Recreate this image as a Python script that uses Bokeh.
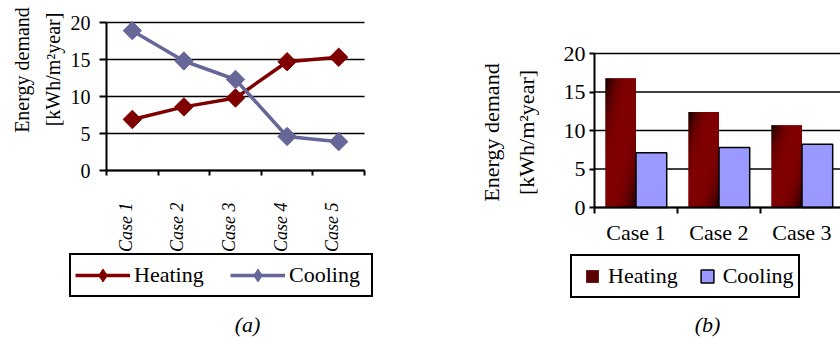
import numpy as np
from math import pi
from bokeh.plotting import figure
from bokeh.layouts import row
from bokeh.models import (Range1d, FixedTicker, CustomJSTickFormatter, Label,
                          Legend, LegendItem)
from bokeh.embed import file_html
from bokeh.resources import INLINE

# ---------------- data ----------------
cases_a = ["Case 1", "Case 2", "Case 3", "Case 4", "Case 5"]
heating_a = [6.9, 8.6, 9.8, 14.7, 15.3]
cooling_a = [18.9, 14.8, 12.3, 4.6, 3.9]

cases_b = ["Case 1", "Case 2", "Case 3"]
heating_b = [16.8, 12.4, 10.7]
cooling_b = [7.1, 7.8, 8.2]

y_ticks = [0, 5, 10, 15, 20]
series = ["Heating", "Cooling"]
y_label = ["Energy demand", "[kWh/m\u00b2year]"]
captions = ["(a)", "(b)"]

# ---------------- style ----------------
SERIF = "Liberation Serif"
HEAT = "#800000"
COOL_A = "#666699"
COOL_B = "#9999FF"
FIG_W, FIG_H, PAGE_M = 420, 340, 0


class Geo:
    """page-pixel <-> data mapping for a figure whose frame fills its canvas"""

    def __init__(self, fig_left, x0_px, xs, y0_px, ys):
        self.fl, self.x0, self.xs, self.y0, self.ys = fig_left, x0_px, xs, y0_px, ys

    def x(self, px):
        return (px - self.x0) / self.xs

    def y(self, py):
        return (self.y0 - py) / self.ys

    def xrange(self):
        return Range1d(self.x(self.fl), self.x(self.fl + FIG_W))

    def yrange(self):
        return Range1d(self.y(PAGE_M + FIG_H), self.y(PAGE_M))


def make_fig(g):
    p = figure(width=FIG_W, height=FIG_H, x_range=g.xrange(), y_range=g.yrange(),
               output_backend="svg", toolbar_location=None, min_border=0)
    p.min_border_left = p.min_border_right = p.min_border_top = p.min_border_bottom = 0
    p.background_fill_color = "white"
    p.border_fill_color = "white"
    p.outline_line_color = None
    p.xgrid.visible = False
    p.ygrid.visible = False
    return p


def style_y(p, size, tick_out, standoff, x_end):
    # horizontal grid lines at the y ticks, spanning the category area
    p.segment(x0=[0] * len(y_ticks), x1=[x_end] * len(y_ticks), y0=y_ticks, y1=y_ticks,
              line_color="black", line_width=1.6, level="underlay")
    ax = p.yaxis[0]
    ax.fixed_location = 0
    ax.ticker = FixedTicker(ticks=y_ticks)
    ax.bounds = (0, 20)
    ax.axis_line_width = 2
    ax.axis_line_color = "black"
    ax.major_tick_out = tick_out
    ax.major_tick_in = 0
    ax.major_tick_line_width = 2
    ax.major_tick_line_color = "black"
    ax.minor_tick_out = 0
    ax.minor_tick_in = 0
    ax.major_label_standoff = standoff
    ax.major_label_text_font = SERIF
    ax.major_label_text_font_size = size
    ax.major_label_text_color = "black"


def style_x(p, labels, label_pos, n_bound, size, style, orient, tick_out, standoff):
    ax = p.xaxis[0]
    ax.fixed_location = 0
    ax.bounds = (0, n_bound)
    ax.ticker = FixedTicker(ticks=label_pos, minor_ticks=list(range(n_bound + 1)))
    ax.formatter = CustomJSTickFormatter(args=dict(labels=labels),
                                         code="return labels[Math.floor(tick)] || ''")
    ax.axis_line_width = 2
    ax.axis_line_color = "black"
    ax.major_tick_out = 0
    ax.major_tick_in = 0
    ax.minor_tick_out = tick_out
    ax.minor_tick_in = 0
    ax.minor_tick_line_width = 2
    ax.minor_tick_line_color = "black"
    ax.major_label_orientation = orient
    ax.major_label_standoff = standoff
    ax.major_label_text_font = SERIF
    ax.major_label_text_font_size = size
    ax.major_label_text_font_style = style
    ax.major_label_text_color = "black"


def add_label(p, text, x, y, size, angle=0.0, style="normal"):
    p.add_layout(Label(x=x, y=y, text=text, angle=angle, text_align="center",
                       text_baseline="middle", text_font=SERIF, text_font_size=size,
                       text_font_style=style, text_color="black"))


def make_legend(items, loc, gw, gh, standoff, spacing, padding, label_width=20):
    return Legend(items=items, orientation="horizontal", location=loc, margin=0,
                  glyph_width=gw, glyph_height=gh, label_standoff=standoff,
                  spacing=spacing, padding=padding, label_width=label_width,
                  border_line_color="black", border_line_width=2, border_line_alpha=1.0,
                  background_fill_color="white", background_fill_alpha=1.0,
                  label_text_font=SERIF, label_text_font_size="22px",
                  label_text_color="black")


# ================= (a) line chart =================
ga = Geo(0, 106.0, 51.6, 170.0, 7.4)
pa = make_fig(ga)

xa = [i + 0.5 for i in range(len(cases_a))]
rh = pa.line(xa, heating_a, line_color=HEAT, line_width=3.5)
mh = pa.scatter(xa, heating_a, marker="square", angle=pi / 4, size=13,
                fill_color=HEAT, line_color=HEAT)
rc = pa.line(xa, cooling_a, line_color=COOL_A, line_width=3.5)
mc = pa.scatter(xa, cooling_a, marker="square", angle=pi / 4, size=13,
                fill_color=COOL_A, line_color=COOL_A)
# legend-only diamond symbols (zero size in the plot)
dh = pa.scatter(xa, heating_a, marker="diamond", size=0, fill_color=HEAT, line_color=HEAT)
dc = pa.scatter(xa, cooling_a, marker="diamond", size=0, fill_color=COOL_A, line_color=COOL_A)

style_y(pa, "20px", 7, 9, len(cases_a))
style_x(pa, cases_a, [x - 0.125 for x in xa], len(cases_a), "18px", "italic", pi / 2, 5, 27)

leg_a = make_legend([LegendItem(label=series[0], renderers=[rh, dh]),
                     LegendItem(label=series[1], renderers=[rc, dc])],
                    (69, FIG_H - 297), 55, 32, 4, 18, 4, label_width=78)
pa.add_layout(leg_a)

add_label(pa, y_label[0], ga.x(21.7), ga.y(69.5), "20px", angle=pi / 2)
add_label(pa, y_label[1], ga.x(52.5), ga.y(69.0), "20px", angle=pi / 2)
add_label(pa, captions[0], ga.x(247), ga.y(324), "22px", style="italic")

# ================= (b) bar chart =================
gb = Geo(FIG_W, 594.0, 83.0, 207.0, 7.7)
pb = make_fig(gb)

# gradient texture for heating bars (diagonal: dark corners top-left / bottom-right)
H, W = 128, 32
u = np.linspace(0, 1, W)[None, :]
vt = np.linspace(1, 0, H)[:, None]
s = (u + vt) / 2.0
b = 1.0 - np.abs(2 * s - 1) ** 3
grad = np.empty((H, W), dtype=np.uint32)
view = grad.view(dtype=np.uint8).reshape((H, W, 4))
view[:, :, 0] = (18 + (128 - 18) * b).astype(np.uint8)
view[:, :, 1] = 0
view[:, :, 2] = 0
view[:, :, 3] = 255

BW = 0.37
xb = [i + 0.5 for i in range(len(cases_b))]

style_y(pb, "22px", 5, 4, len(cases_b) + 1)
style_x(pb, cases_b, xb, len(cases_b), "22px", "normal", "horizontal", 6, 6)
pb.xaxis[0].bounds = (0, len(cases_b) + 1)

pb.image_rgba(image=[grad] * len(cases_b), x=[x - BW for x in xb], y=[0] * len(cases_b),
              dw=[BW] * len(cases_b), dh=heating_b)
pb.vbar(x=[x + BW / 2 for x in xb], width=BW, top=cooling_b, bottom=0,
        fill_color=COOL_B, line_color="black", line_width=1.5)

# legend-only swatches (zero size in the plot)
lh = pb.scatter(x=[x - BW / 2 for x in xb], y=heating_b, marker="square", size=0,
                fill_color="#5a0000", line_color=None)
lc = pb.scatter(x=[x + BW / 2 for x in xb], y=cooling_b, marker="square", size=0,
                fill_color=COOL_B, line_color="black", line_width=1.5)

leg_b = make_legend([LegendItem(label=series[0], renderers=[lh]),
                     LegendItem(label=series[1], renderers=[lc])],
                    (570 - FIG_W, FIG_H - 298), 32, 32, 0, 13, 4)
pb.add_layout(leg_b)

add_label(pb, y_label[0], gb.x(491), gb.y(132), "22px", angle=pi / 2)
add_label(pb, y_label[1], gb.x(526), gb.y(132), "22px", angle=pi / 2)
add_label(pb, captions[1], gb.x(707), gb.y(324), "22px", style="italic")

layout = row(pa, pb)
open("out.html", "w").write(file_html(layout, INLINE))
